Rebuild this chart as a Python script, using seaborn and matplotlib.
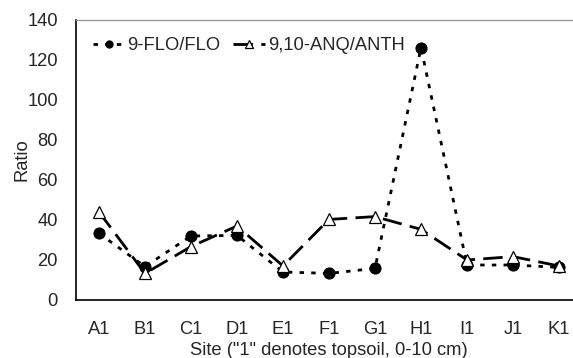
import matplotlib
matplotlib.use("Agg")
import matplotlib.pyplot as plt
import seaborn as sns
import pandas as pd

sites = ["A1", "B1", "C1", "D1", "E1", "F1", "G1", "H1", "I1", "J1", "K1"]
flo = [33.3, 16.7, 32.0, 32.3, 14.0, 13.3, 15.8, 126.2, 17.5, 17.5, 16.3]
anth = [44.0, 13.3, 26.7, 37.0, 17.0, 40.3, 41.7, 35.3, 20.0, 21.7, 17.0]
series_names = ["9-FLO/FLO", "9,10-ANQ/ANTH"]
yticks = [0, 20, 40, 60, 80, 100, 120, 140]

sns.set_style("white")
plt.rcParams["font.family"] = ["Liberation Sans", "DejaVu Sans"]
FS = 13.2

df = pd.DataFrame({"pos": range(len(sites)), "flo": flo, "anth": anth})

fig = plt.figure(figsize=(5.73, 3.58), dpi=100)
ax = fig.add_axes([76 / 573, 1 - 300 / 358, 506 / 573, 280 / 358])

sns.lineplot(data=df, x="pos", y="flo", ax=ax, color="black", lw=2.0,
             marker="o", markersize=8, markerfacecolor="black",
             markeredgecolor="black", label=series_names[0])
ax.lines[-1].set_dashes([1.6, 2.6])
sns.lineplot(data=df, x="pos", y="anth", ax=ax, color="black", lw=2.0,
             marker="^", markersize=8.5, markerfacecolor="white",
             markeredgecolor="black", markeredgewidth=0.9,
             label=series_names[1])
ax.lines[-1].set_dashes([7, 3])

ax.set_xlim(-0.5, len(sites) - 0.5)
ax.set_ylim(0, 140)
ax.set_yticks(yticks)
ax.set_yticklabels([str(v) for v in yticks], fontsize=FS)
ax.set_xticks(range(len(sites)))
ax.set_xticklabels(sites, fontsize=FS)
ax.set_xticks([i - 0.5 for i in range(len(sites) + 1)], minor=True)
ax.tick_params(axis="x", which="major", length=0, pad=15)
ax.tick_params(axis="x", which="minor", length=6, width=1, color="black",
               direction="out")
ax.tick_params(axis="y", length=6, width=1, color="black", direction="out",
               pad=7)

for s in ["left", "bottom"]:
    ax.spines[s].set_color("black")
    ax.spines[s].set_linewidth(1.2)
ax.spines["top"].set_color("#999999")
ax.spines["top"].set_linewidth(1.0)
ax.spines["right"].set_visible(False)

ax.set_ylabel("Ratio", fontsize=FS, labelpad=-2)
ax.set_xlabel('Site ("1" denotes topsoil, 0-10 cm)', fontsize=FS, labelpad=3)

leg = ax.legend(loc="center left", bbox_to_anchor=(0.034, 0.908), ncol=2,
                frameon=False, fontsize=FS, handlelength=1.7,
                handletextpad=0.17, columnspacing=0.7, borderaxespad=0,
                borderpad=0, markerscale=0.65)

fig.savefig("out.png", dpi=100)
